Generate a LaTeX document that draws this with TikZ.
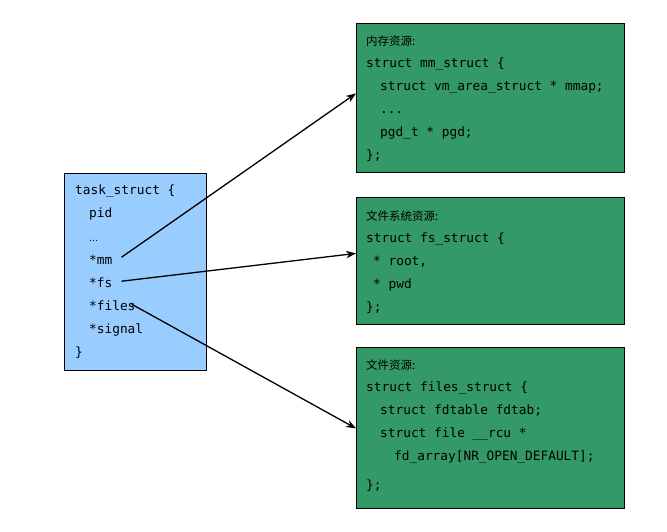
\documentclass[tikz,border=0pt]{standalone}
\usepackage{fontspec}
\usetikzlibrary{arrows.meta,calc}
\newfontfamily\codefont{DejaVu Sans Mono}
\newfontfamily\cjk{Noto Sans CJK SC}
\definecolor{boxblue}{HTML}{99CCFF}
\definecolor{boxgreen}{HTML}{339966}
\tikzset{
  code/.style={font=\codefont\fontsize{12.8}{15}\selectfont, anchor=base west, inner sep=0pt, text=black},
  cn/.style={font=\cjk\fontsize{11.5}{13}\selectfont, anchor=base west, inner sep=0pt, text=black},
  bluebox/.style={draw=black, line width=0.8pt, fill=boxblue},
  greenbox/.style={draw=black, line width=0.8pt, fill=boxgreen},
  ptr/.style={line width=1.3pt, -{Stealth[length=10pt,width=7.5pt]}},
}
\begin{document}
\begin{tikzpicture}[x=1pt,y=-1pt]
\useasboundingbox[fill=white] (0,0) rectangle (667,532);
% boxes
\draw[bluebox] (64,173) rectangle (206,370);
\node[inner sep=0, minimum width=268pt, minimum height=149pt, greenbox, anchor=north west] (mmbox) at (356,23) {};
\node[inner sep=0, minimum width=268pt, minimum height=127pt, greenbox, anchor=north west] (fsbox) at (356,197) {};
\node[inner sep=0, minimum width=268pt, minimum height=161pt, greenbox, anchor=north west] (filesbox) at (356,347) {};
% task_struct
\node[code] (t0) at (75,194) {task\_struct \{};
\node[code] (t1) at (89,217) {pid};
\node[code] (t2) at (89,241) {\fontspec{DejaVu Sans}\fontsize{9}{10}\selectfont …};
\node[code] (tmm) at (89,264) {*mm};
\node[code] (tfs) at (89,287) {*fs};
\node[code] (tfiles) at (89,310) {*files};
\node[code] (t6) at (89,333) {*signal};
\node[code] (t7) at (75,356) {\}};
% mm box
\node[cn] (m0) at (366,46) {内存资源:};
\node[code] (m1) at (366,68) {struct mm\_struct \{};
\node[code] (m2) at (380,91) {struct vm\_area\_struct * mmap;};
\node[code] (m3) at (380,114) {...};
\node[code] (m4) at (380,137) {pgd\_t * pgd;};
\node[code] (m5) at (366,160) {\};};
% fs box
\node[cn] (f0) at (366,220) {文件系统资源:};
\node[code] (f1) at (366,242) {struct fs\_struct \{};
\node[code] (f2) at (373,265) {* root,};
\node[code] (f3) at (373,288) {* pwd};
\node[code] (f4) at (366,311) {\};};
% files box
\node[cn] (g0) at (366,369) {文件资源:};
\node[code] (g1) at (366,391) {struct files\_struct \{};
\node[code] (g2) at (380,414) {struct fdtable fdtab;};
\node[code] (g3) at (380,437) {struct file \_\_rcu *};
\node[code] (g4) at (394,460) {fd\_array[NR\_OPEN\_DEFAULT];};
\node[code] (g5) at (366,489) {\};};
% arrows
\draw[ptr] ($(tmm.east)+(9,-2)$) -- ($(mmbox.west)+(0,-4.5)$);
\draw[ptr] ($(tfs.east)+(9,-1)$) -- ($(fsbox.west)+(0,-7.5)$);
\draw[ptr] ($(tfiles.east)+(-4,-1)$) -- ($(filesbox.west)+(0,0.5)$);
\end{tikzpicture}
\end{document}
